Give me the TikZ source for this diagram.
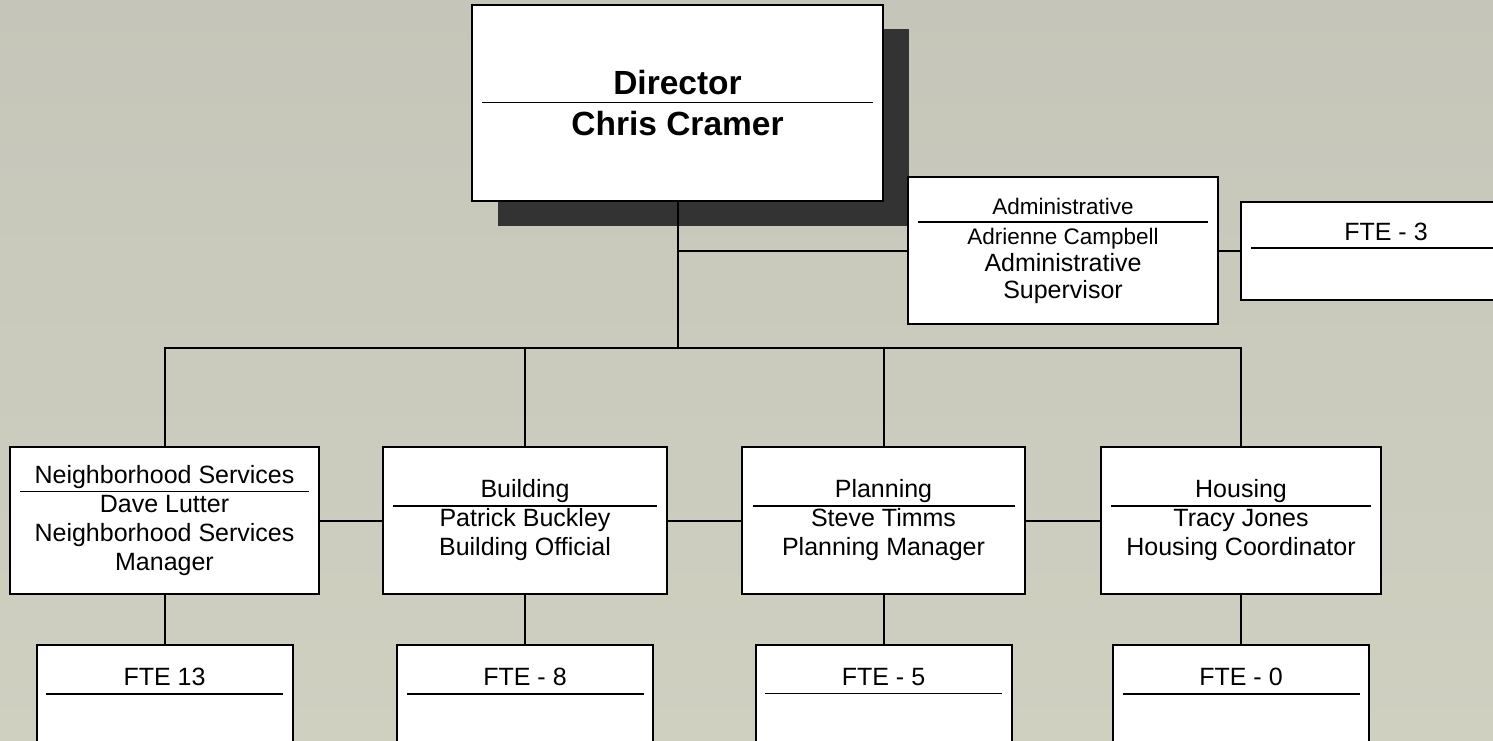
\documentclass[tikz,border=0pt]{standalone}
\usepackage{fontspec}
\setmainfont{Liberation Sans}
\usetikzlibrary{positioning,shadows}
\definecolor{bgtop}{RGB}{197,197,185}
\definecolor{bgbot}{RGB}{208,208,193}
\definecolor{shadowgray}{RGB}{51,51,51}
\newcommand{\sepskip}{\\[\dimexpr9pt-\baselineskip\relax]}
\newcommand{\divline}[1]{\sepskip\rule{#1}{1.7pt}\\[-9pt]}

\begin{document}
\begin{tikzpicture}[x=1pt, y=-1pt, node distance=49pt]
  \tikzset{
    unit/.style={draw, fill=white, line width=2pt, inner sep=0pt, align=center,
      font=\fontsize{25}{29}\selectfont},
    headbox/.style={unit, font=\fontsize{33.5}{41}\selectfont\bfseries,
      minimum width=411pt, minimum height=196pt,
      drop shadow={shadow xshift=26pt, shadow yshift=-24.5pt, fill=shadowgray, opacity=1}},
    deptbox/.style={unit, minimum height=147pt},
    ftebox/.style={unit, minimum width=256pt, minimum height=140pt},
    ftelabel/.style={inner sep=0pt, align=center, font=\fontsize{25}{29}\selectfont, anchor=north},
    link/.style={line width=2pt}
  }
  \useasboundingbox (0,0) rectangle (1493,741);
  \clip (0,0) rectangle (1493,741);
  \shade[top color=bgtop, bottom color=bgbot] (0,0) rectangle (1493,741);

  % director and admin
  \node[headbox] (dir) at (677.5,103) {Director\divline{391pt}Chris Cramer};
  \node[deptbox, minimum width=310pt, font=\fontsize{22.5}{27}\selectfont] (adm) at (1063,250.5)
    {Administrative\sepskip\rule{290pt}{1.7pt}\\[-6pt]Adrienne Campbell\\
     {\fontsize{25}{29}\selectfont Administrative}\\
     {\fontsize{25}{29}\selectfont Supervisor}};
  \node[unit, minimum width=290pt, minimum height=98pt] (fte0) at (1386,250.5) {};
  \node[ftelabel] (fte0-l) [below=22pt of fte0.north] {FTE - 3\sepskip\rule{270pt}{1.7pt}};

  % departments
  \node[deptbox, minimum width=309pt] (ns) at (164.5,520.5)
    {Neighborhood Services\divline{289pt}Dave Lutter\\Neighborhood Services\\Manager};
  \node[deptbox, minimum width=284pt] (bld) at (525,520.5)
    {Building\divline{264pt}Patrick Buckley\\Building Official};
  \node[deptbox, minimum width=283pt] (pln) at (883.5,520.5)
    {Planning\divline{262pt}Steve Timms\\Planning Manager};
  \node[deptbox, minimum width=280pt] (hsg) at (1241,520.5)
    {Housing\divline{260pt}Tracy Jones\\Housing Coordinator};

  % staff counts
  \node[ftebox] (f1) [below=of ns] {};
  \node[ftebox] (f2) [below=of bld] {};
  \node[ftebox] (f3) [below=of pln] {};
  \node[ftebox] (f4) [below=of hsg] {};
  \node[ftelabel] (f1-l) [below=24pt of f1.north] {FTE 13\sepskip\rule{237pt}{1.7pt}};
  \node[ftelabel] (f2-l) [below=24pt of f2.north] {FTE - 8\sepskip\rule{237pt}{1.7pt}};
  \node[ftelabel] (f3-l) [below=24pt of f3.north] {FTE - 5\sepskip\rule{237pt}{1.7pt}};
  \node[ftelabel] (f4-l) [below=24pt of f4.north] {FTE - 0\sepskip\rule{237pt}{1.7pt}};

  % connectors
  \coordinate (bus) at (677.5,348);
  \draw[link] (dir.south) -- (bus);
  \draw[link] (dir.south) |- (adm.west);
  \draw[link] (adm.east) -- (fte0.west);
  \draw[link] (ns.north) |- (bus) -| (hsg.north);
  \draw[link] (bld.north) -- (bld.north |- bus);
  \draw[link] (pln.north) -- (pln.north |- bus);
  \draw[link] (ns) -- (bld);
  \draw[link] (bld) -- (pln);
  \draw[link] (pln) -- (hsg);
  \draw[link] (ns) -- (f1);
  \draw[link] (bld) -- (f2);
  \draw[link] (pln) -- (f3);
  \draw[link] (hsg) -- (f4);
\end{tikzpicture}
\end{document}
